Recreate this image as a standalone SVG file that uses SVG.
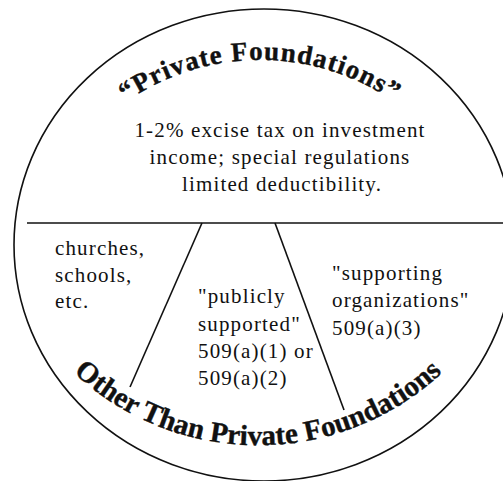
<svg xmlns="http://www.w3.org/2000/svg" width="503" height="481" viewBox="0 0 503 481">
<style>
.body{font-family:"Liberation Serif","Times New Roman",serif;font-size:21px;letter-spacing:1.15px;fill:#111}
.arc{font-family:"Liberation Serif","Times New Roman",serif;font-weight:bold;fill:#111;stroke:#111;stroke-width:0.4}
.ln{stroke:#111;stroke-width:1.6;fill:none}
</style>
<defs>
<path id="topArc" d="M 55.6 178 A 236 236 0 0 1 464.4 178"/>
<path id="botArc" d="M 24 310 A 270 270 0 0 0 492 310"/>
</defs>
<rect width="503" height="481" fill="#fff"/>
<g id="outline">
<ellipse class="ln" cx="264" cy="245" rx="250" ry="236" stroke-width="1.8"/>
</g>
<g id="connectors">
<line class="ln" x1="27" y1="223" x2="503" y2="223"/>
<line class="ln" x1="202" y1="223" x2="130" y2="387"/>
<line class="ln" x1="275" y1="223" x2="344" y2="410"/>
</g>
<g id="private-foundations">
<text class="arc" font-size="27" letter-spacing="1.1" text-anchor="middle"><textPath href="#topArc" startOffset="50%">“Private Foundations”</textPath></text>
<text class="body" text-anchor="middle"><tspan x="280" y="137">1-2% excise tax on investment</tspan><tspan x="280" y="164">income; special regulations</tspan><tspan x="282" y="191">limited deductibility.</tspan></text>
</g>
<g id="other-than-private-foundations">
<text class="arc" font-size="29" text-anchor="middle"><textPath href="#botArc" startOffset="50%">Other Than Private Foundations</textPath></text>
</g>
<g id="churches">
<text class="body"><tspan x="55" y="255">churches,</tspan><tspan x="55" y="282">schools,</tspan><tspan x="55" y="308">etc.</tspan></text>
</g>
<g id="publicly-supported">
<text class="body"><tspan x="198" y="303">"publicly</tspan><tspan x="198" y="331">supported"</tspan><tspan x="198" y="358">509(a)(1) or</tspan><tspan x="198" y="385">509(a)(2)</tspan></text>
</g>
<g id="supporting-organizations">
<text class="body"><tspan x="332" y="280">"supporting</tspan><tspan x="332" y="307">organizations"</tspan><tspan x="332" y="335">509(a)(3)</tspan></text>
</g>
</svg>
